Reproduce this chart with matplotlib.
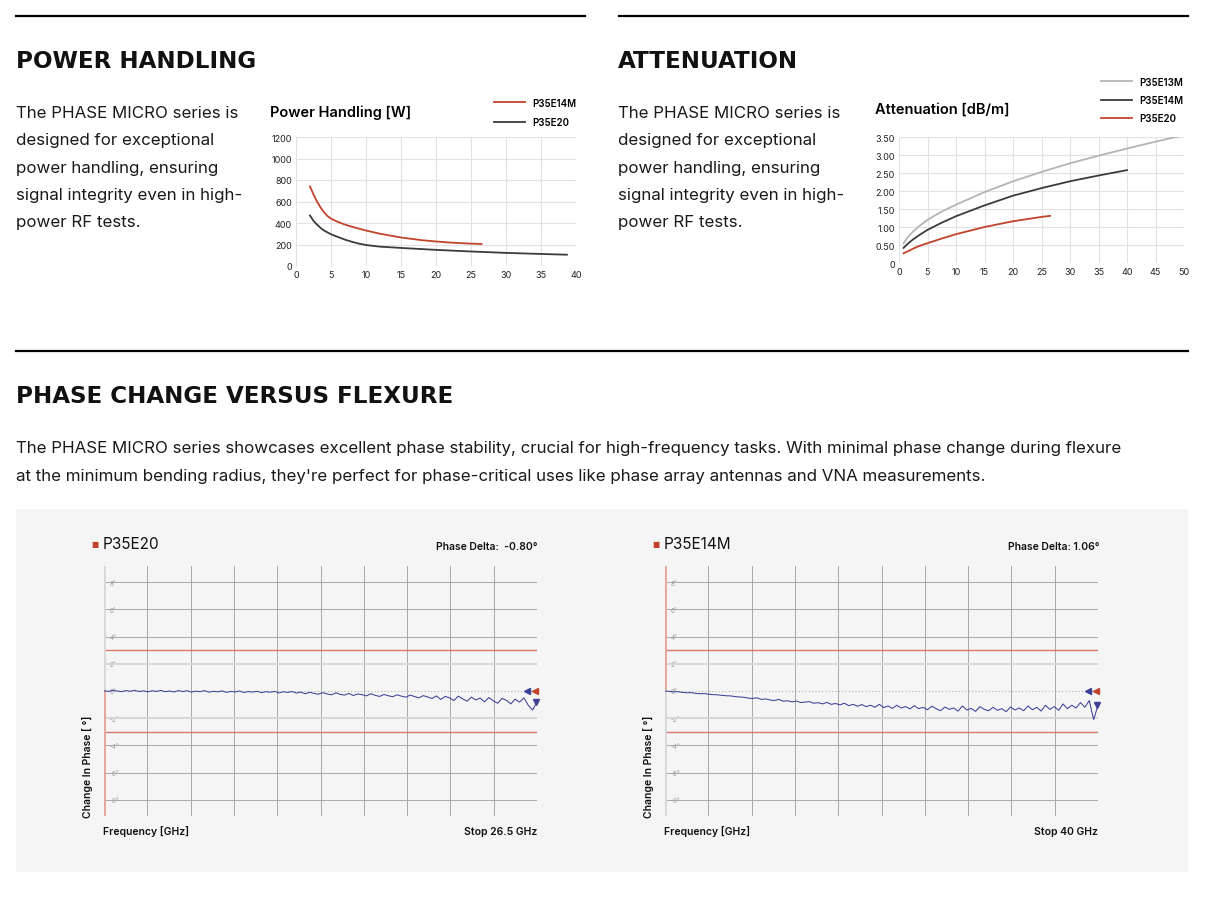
import numpy as np
import matplotlib
matplotlib.use("Agg")
import matplotlib.pyplot as plt
from matplotlib.lines import Line2D
from matplotlib.patches import Rectangle

# ---- data ----
pw_freq_e14m = [2, 2.5, 3, 3.5, 4, 4.5, 5, 6, 7, 8, 10, 12, 15, 18, 20, 22, 25, 26.5]
pw_e14m = [740, 665, 600, 545, 500, 465, 440, 410, 385, 365, 330, 300, 265, 240, 228, 218, 208, 205]
pw_freq_e20 = [2, 2.5, 3, 3.5, 4, 5, 6, 7, 8, 9, 10, 12, 15, 20, 25, 30, 35, 38.7]
pw_e20 = [470, 420, 385, 355, 330, 295, 270, 245, 225, 208, 195, 180, 168, 150, 135, 122, 112, 105]

att_freq_e13m = [0.8, 1.5, 2.5, 3.5, 5, 7.5, 10, 15, 20, 25, 30, 35, 40, 45, 50]
att_e13m = [0.55, 0.71, 0.88, 1.02, 1.2, 1.43, 1.62, 1.97, 2.27, 2.53, 2.77, 2.98, 3.18, 3.37, 3.55]
att_freq_e14m = [0.8, 1.5, 2.5, 3.5, 5, 7.5, 10, 15, 20, 25, 30, 35, 40]
att_e14m = [0.42, 0.53, 0.66, 0.77, 0.92, 1.12, 1.3, 1.6, 1.87, 2.08, 2.27, 2.43, 2.58]
att_freq_e20 = [0.8, 1.5, 2.5, 3.5, 5, 7.5, 10, 15, 20, 25, 26.5]
att_e20 = [0.27, 0.32, 0.4, 0.47, 0.55, 0.68, 0.8, 1.0, 1.16, 1.28, 1.31]

phase_e20 = [0.02, -0.03, 0.04, 0.00, -0.05, 0.03, -0.02, 0.05, -0.04, 0.01,
             -0.06, 0.02, -0.03, 0.04, -0.05, 0.00, -0.07, 0.03, -0.04, 0.02,
             -0.08, -0.01, -0.05, 0.03, -0.09, -0.02, -0.06, 0.01, -0.10, -0.03,
             -0.07, 0.00, -0.11, -0.04, -0.08, -0.02, -0.12, -0.05, -0.09, -0.03,
             -0.14, -0.06, -0.10, -0.04, -0.15,
             -0.08, -0.20, -0.10, -0.17, -0.24, -0.12, -0.22, -0.28, -0.14, -0.25,
             -0.30, -0.18, -0.33, -0.22, -0.27, -0.36, -0.20, -0.32, -0.40, -0.26,
             -0.35, -0.42, -0.28, -0.38, -0.46, -0.30, -0.41, -0.50, -0.34, -0.44,
             -0.55, -0.36, -0.62, -0.40, -0.50, -0.70, -0.38, -0.58, -0.75, -0.45,
             -0.66, -0.52, -0.80, -0.48, -0.72, -0.90, -0.55, -0.68, -0.95, -0.60,
             -0.82, -0.50, -1.05, -1.40, -0.80]
phase_e14m = [0.00, -0.03, -0.06, -0.05, -0.10, -0.13, -0.12, -0.17, -0.20, -0.19,
              -0.24, -0.27, -0.28, -0.32, -0.35, -0.36, -0.41, -0.44, -0.46, -0.52,
              -0.55, -0.50, -0.62, -0.58, -0.66, -0.70, -0.62, -0.75, -0.72, -0.80,
              -0.74, -0.85, -0.82, -0.78, -0.90, -0.86, -0.95, -0.84, -0.98, -0.92,
              -1.02, -0.90, -1.08, -0.98, -1.12, -1.00, -1.15, -1.05, -1.20, -0.98,
              -1.22, -1.10, -1.28, -1.05, -1.25, -1.15, -1.32, -1.08, -1.30, -1.20,
              -1.38, -1.12, -1.30, -1.45, -1.18, -1.35, -1.25, -1.48, -1.10, -1.40,
              -1.28, -1.50, -1.15, -1.36, -1.45, -1.20, -1.42, -1.30, -1.52, -1.18,
              -1.40, -1.25, -1.45, -1.10, -1.38, -1.20, -1.48, -1.05, -1.35, -1.15,
              -1.42, -0.95, -1.30, -1.05, -1.25, -0.85, -1.20, -0.70, -2.10, -1.06]
stop_e20 = 26.5
stop_e14m = 40
phase_ticks = [-8, -6, -4, -2, 0, 2, 4, 6, 8]

RED = "#c2432b"
DARK = "#3b3b3f"
LIGHT = "#b4b4b4"
TRACE = "#3d4196"

W, H = 1206, 904
fig = plt.figure(figsize=(W / 100, H / 100), dpi=100)
plt.rcParams['font.family'] = ['Inter', 'DejaVu Sans']


def box(x0, y0, x1, y1):
    return [x0 / W, 1 - y1 / H, (x1 - x0) / W, (y1 - y0) / H]


def txt(x, y, s, **kw):
    kw.setdefault('va', 'center')
    fig.text(x / W, 1 - y / H, s, **kw)


def hline(x0, x1, y, **kw):
    fig.add_artist(Line2D([x0 / W, x1 / W], [1 - y / H, 1 - y / H], **kw))


# separators and panel
hline(16, 585, 17, color='k', lw=1.6)
hline(619, 1188, 17, color='k', lw=1.6)
hline(16, 1188, 352, color='k', lw=1.6)
fig.add_artist(Rectangle((16 / W, 1 - 873 / H), (1188 - 16) / W, (873 - 510) / H,
                         facecolor='#f5f5f5', edgecolor='none', zorder=0))

head = dict(family='DejaVu Sans', fontweight='bold', fontsize=16.6, color='#111')
txt(16, 61, "POWER HANDLING", **head)
txt(618, 61, "ATTENUATION", **head)
txt(16, 397, "PHASE CHANGE VERSUS FLEXURE", **head)

body = ["The PHASE MICRO series is", "designed for exceptional",
        "power handling, ensuring", "signal integrity even in high-",
        "power RF tests."]
for i, line in enumerate(body):
    txt(16, 113 + i * 27.5, line, fontsize=12.2, color='#1a1a1a')
    txt(618, 113 + i * 27.5, line, fontsize=12.2, color='#1a1a1a')

txt(16, 449, "The PHASE MICRO series showcases excellent phase stability, crucial for "
    "high-frequency tasks. With minimal phase change during flexure",
    fontsize=12.2, color='#1a1a1a')
txt(16, 477, "at the minimum bending radius, they're perfect for phase-critical uses "
    "like phase array antennas and VNA measurements.",
    fontsize=12.2, color='#1a1a1a')


def small_chart(ax, xmax, ymax, xstep, ystep, ylabels):
    ax.set_xlim(0, xmax)
    ax.set_ylim(0, ymax)
    ax.set_xticks(np.arange(0, xmax + 0.01, xstep))
    yt = np.arange(0, ymax + 0.001, ystep)
    ax.set_yticks(yt)
    ax.set_yticklabels(ylabels(yt))
    ax.grid(True, color='#e2e2e2', lw=0.8)
    ax.set_axisbelow(True)
    for s in ax.spines.values():
        s.set_visible(False)
    ax.tick_params(length=0, labelsize=6.5, pad=3, colors='#222')


# power handling
ax1 = fig.add_axes(box(296, 138, 576, 267))
l1, = ax1.plot(pw_freq_e14m, pw_e14m, color=RED, lw=1.3, label="P35E14M")
l2, = ax1.plot(pw_freq_e20, pw_e20, color=DARK, lw=1.3, label="P35E20")
small_chart(ax1, 40, 1200, 5, 200, lambda t: [str(int(v)) for v in t])
txt(270, 113, "Power Handling [W]", fontsize=10.5, fontweight='semibold')
fig.legend(handles=[l1, l2], loc='upper left', bbox_to_anchor=(485 / W, 1 - 90 / H),
           frameon=False, handlelength=3.2, labelspacing=1.0,
           prop={'size': 7, 'weight': 'semibold'})

# attenuation
ax2 = fig.add_axes(box(899, 138, 1184, 264))
a1, = ax2.plot(att_freq_e13m, att_e13m, color=LIGHT, lw=1.3, label="P35E13M")
a2, = ax2.plot(att_freq_e14m, att_e14m, color=DARK, lw=1.3, label="P35E14M")
a3, = ax2.plot(att_freq_e20, att_e20, color=RED, lw=1.3, label="P35E20")
small_chart(ax2, 50, 3.5, 5, 0.5,
            lambda t: ['0' if v == 0 else f"{v:.2f}" for v in t])
txt(875, 110, "Attenuation [dB/m]", fontsize=10.5, fontweight='semibold')
fig.legend(handles=[a1, a2, a3], loc='upper left', bbox_to_anchor=(1092 / W, 1 - 69 / H),
           frameon=False, handlelength=3.2, labelspacing=0.85,
           prop={'size': 7, 'weight': 'semibold'})


def phase_chart(rect, vals, stop, top_red):
    ax = fig.add_axes(rect)
    ax.set_facecolor('none')
    freq = np.linspace(0, stop, len(vals))
    ax.set_xlim(0, stop)
    ax.set_ylim(-9.2, 9.2)
    ax.set_xticks(np.linspace(0, stop, 11))
    ax.set_yticks(phase_ticks)
    ax.set_yticklabels([f"{v}°" for v in phase_ticks])
    ax.grid(True, axis='x', color='#a8a8a8', lw=0.7)
    for v in phase_ticks:
        if v == 0:
            ax.axhline(v, color='#b0b0b0', lw=0.8, ls=(0, (1, 2)))
        elif abs(v) == 2:
            ax.axhline(v, color='#d6d6d6', lw=1.4)
        else:
            ax.axhline(v, color='#a8a8a8', lw=0.7)
    ax.axhline(3, color='#d9786c', lw=1.0)
    ax.axhline(-3, color='#d9786c', lw=1.0)
    for s in ax.spines.values():
        s.set_visible(False)
    ax.axvline(0, ymin=0.5, ymax=1, color='#e6a59b' if top_red else '#d8d8d8', lw=2)
    ax.axvline(0, ymin=0, ymax=0.5, color='#d8d8d8' if top_red else '#e6a59b', lw=2)
    ax.tick_params(length=0, labelbottom=False)
    ax.tick_params(axis='y', pad=-4, labelsize=4.5, labelcolor='#9a9a9a')
    for lab in ax.get_yticklabels():
        lab.set_horizontalalignment('left')
    ax.plot(freq, vals, color=TRACE, lw=0.75)
    ax.plot([stop * 0.978], [0], marker='<', color=TRACE, ms=5, clip_on=False)
    ax.plot([stop * 0.995], [0], marker='<', color=RED, ms=4, clip_on=False)
    ax.plot([stop * 0.998], [vals[-1]], marker='v', color=TRACE, ms=4, clip_on=False)
    return ax


phase_chart(box(104, 567, 537, 817), phase_e20, stop_e20, False)
phase_chart(box(665, 567, 1098, 817), phase_e14m, stop_e14m, True)

for x0, x1, name, delta, stop in [(104, 537, "P35E20", "Phase Delta:  -0.80°", "Stop 26.5 GHz"),
                                  (665, 1098, "P35E14M", "Phase Delta: 1.06°", "Stop 40 GHz")]:
    txt(x0 - 13, 545, "■", family='DejaVu Sans', fontsize=5.5, color=RED)
    txt(x0 - 1, 545, name, fontsize=11, color='#111')
    txt(x1 + 1, 547, delta, fontsize=7.5, ha='right', fontweight='semibold', color='#111')
    txt(x0 - 1, 832, "Frequency [GHz]", fontsize=7.5, fontweight='semibold', color='#111')
    txt(x1, 832, stop, fontsize=7.5, ha='right', fontweight='semibold', color='#111')
    fig.text((x0 - 16) / W, 1 - 818 / H, "Change In Phase [ °]", rotation=90,
             ha='center', va='bottom', fontsize=7.5, fontweight='semibold', color='#111')

fig.savefig("out.png", dpi=100)
